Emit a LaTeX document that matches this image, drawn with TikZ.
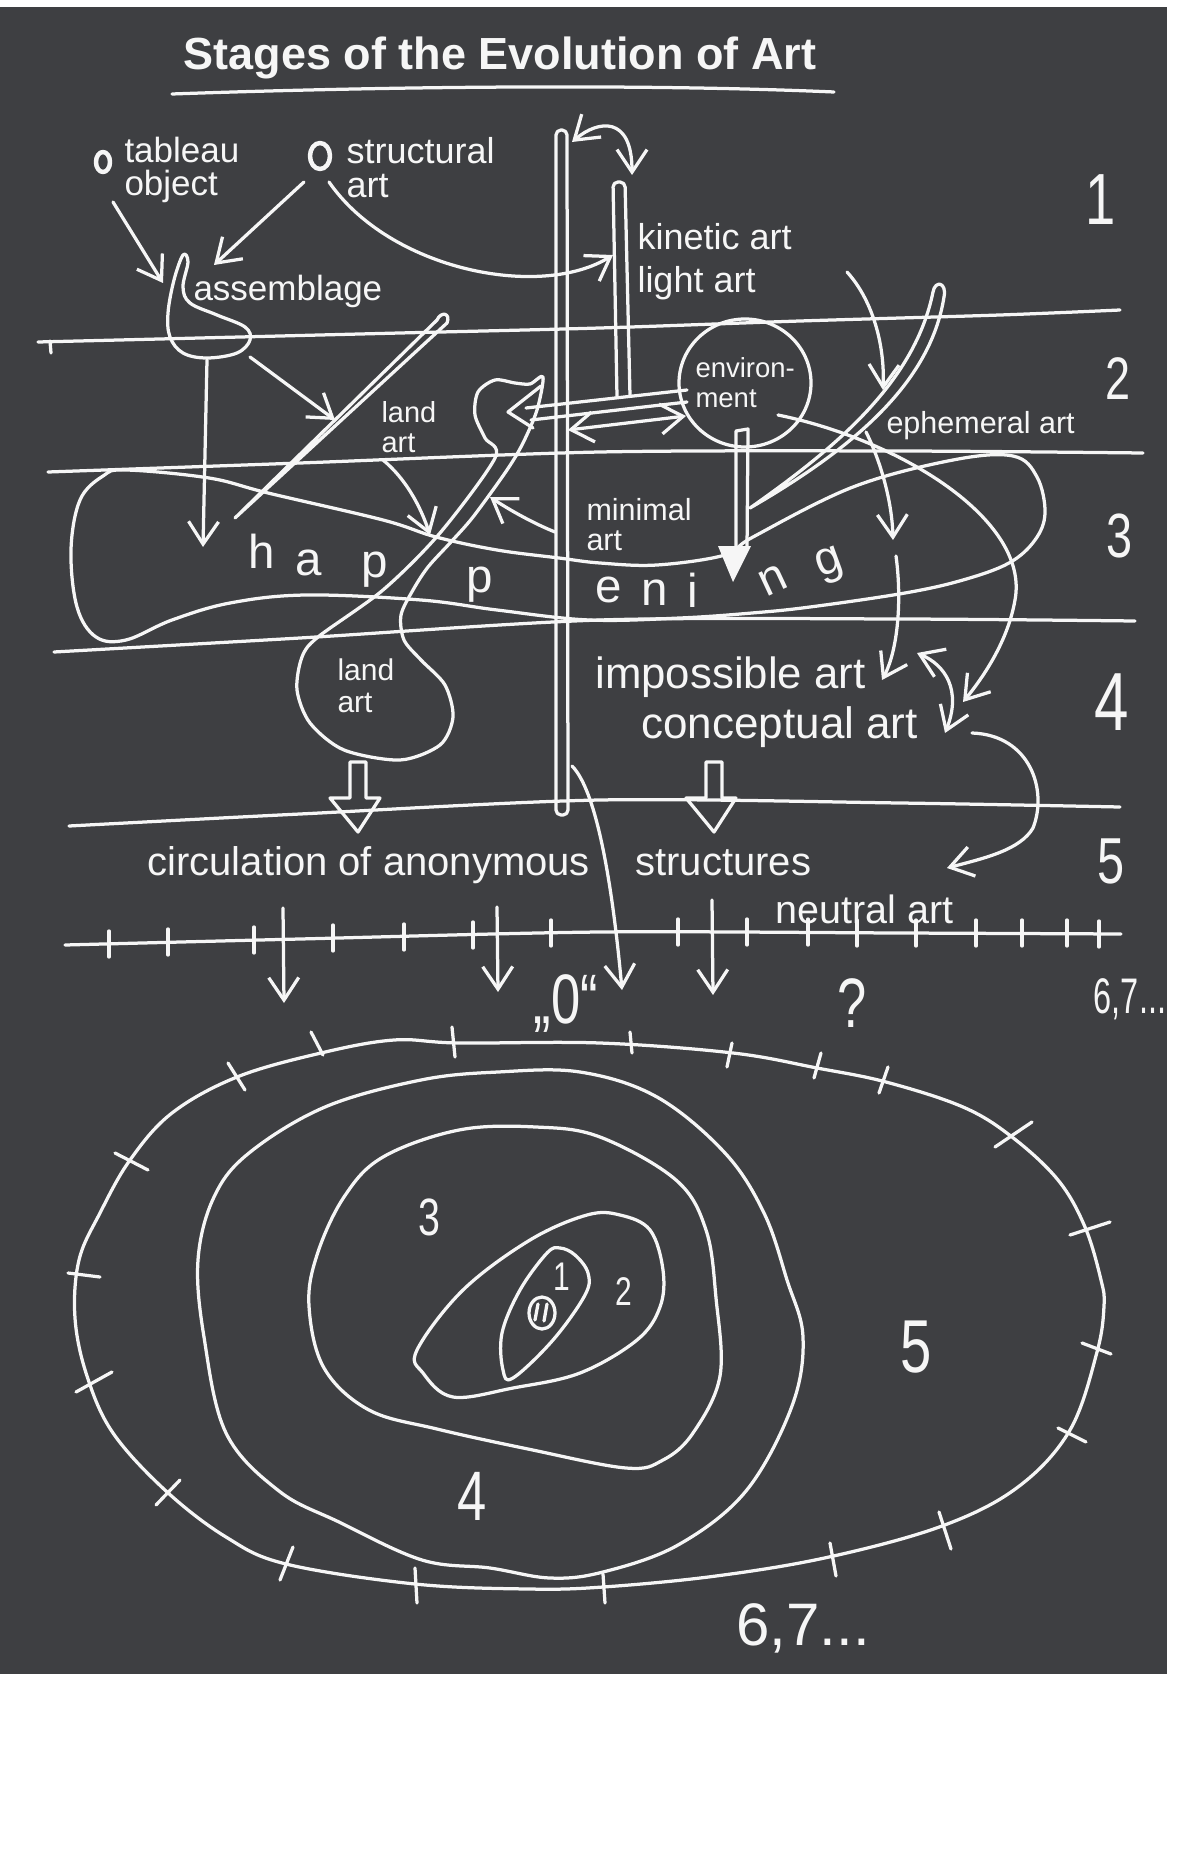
\documentclass[tikz,border=0pt]{standalone}
\usepackage{fontspec}
\setmainfont{Liberation Sans}
\usetikzlibrary{arrows.meta}
\definecolor{bg}{RGB}{62,63,66}
\definecolor{chalk}{RGB}{246,246,246}
\newcommand{\hnd}[1]{\scalebox{0.75}[1]{#1}}
\newcommand{\fs}[1]{\fontsize{#1}{#1}\selectfont}
\newcommand{\twol}[3]{\vtop{\baselineskip=#3\lineskiplimit=-\maxdimen\hbox{#1}\hbox{#2}}}
\begin{document}
\begin{tikzpicture}[x=0.4pt,y=-0.4pt,
  sk/.style={draw=chalk, line width=1.3pt, line cap=round, line join=round},
  va/.style={-{Straight Barb[length=9pt,width=12pt]}},
  vv/.style={{Straight Barb[length=9pt,width=12pt]}-{Straight Barb[length=9pt,width=12pt]}},
  lbl/.style={text=chalk, inner sep=0pt, anchor=base west},
  dig/.style={text=chalk, inner sep=0pt, anchor=base},
  hl/.style={text=chalk, inner sep=0pt, font=\fs{19}},
]
\useasboundingbox (0,0) rectangle (1182,1864);
\fill[white] (0,0) rectangle (1182,1864);
\fill[bg] (0,7) rectangle (1167,1674);

% title underline
\draw[sk] (172,94) .. controls (400,86) and (650,84) .. (834,92);

% row lines
\draw[sk] plot[smooth] coordinates {(38,342) (200,338) (400,333) (600,328) (800,321) (1000,315) (1120,310)};
\draw[sk] (50,341) -- (51,353);
\draw[sk] plot[smooth] coordinates {(48,472) (300,463) (600,452) (900,451) (1143,453)};
\draw[sk] plot[smooth] coordinates {(54,652) (300,638) (600,620) (900,619) (1135,621)};
\draw[sk] plot[smooth] coordinates {(69,826) (300,814) (600,800) (900,803) (1120,807)};
\draw[sk] plot[smooth] coordinates {(65,945) (300,939) (600,932) (900,933) (1121,934)};
\foreach \x/\y in {109/944,168/942,254/940,333/938,404/937,473/935,551/933,678/932,747/932,808/932,857/933,916/933,976/933,1022/933,1067/933,1099/934}
  \draw[sk] (\x,\y-13) -- (\x,\y+13);

% arrows below the time axis
\draw[sk,va] (283,908) -- (284,1003);
\draw[sk,va] (497,907) -- (498,992);
\draw[sk,va] (572,766) .. controls (596,790) and (612,880) .. (622,990);
\draw[sk,va] (712,900) -- (713,995);

% long bar and kinetic bar
\draw[sk, rounded corners=2pt] (556,815) -- (556,130) -- (567,130) -- (568,815) -- cycle;
\draw[sk, rounded corners=2pt] (617,397) -- (613,182) -- (625,182) -- (630,396);

% top curved double arrow
\draw[sk,vv] (572,142) .. controls (598,120) and (632,115) .. (632,175);

% structural -> kinetic
\draw[sk,va] (329,182) .. controls (390,270) and (540,300) .. (613,255);

% tableau / structural -> assemblage
\draw[sk,va] (113,202) -- (163,283);
\draw[sk,va] (304,182) -- (214,265);

% assemblage loop
\draw[sk] plot[smooth cycle, tension=0.6] coordinates {(183,255) (174,280) (168,313) (170,337) (183,353) (207,358) (237,353) (250,340) (245,327) (217,315) (190,303) (183,287) (188,262)};
\draw[sk,va] (207,360) -- (203,547);
\draw[sk,va] (250,357) -- (335,420);

% upper land art loop
\draw[sk] (235,518) -- (437,320) .. controls (441,311) and (451,313) .. (447,323) -- cycle;
\draw[sk,va] (383,460) .. controls (405,478) and (420,505) .. (430,535);

% happening loop
\draw[sk] plot[smooth cycle, tension=0.6] coordinates {(126,470) (209,478) (268,493) (383,520) (436,537) (497,550) (559,558) (600,563) (657,565) (725,555) (753,537) (853,487) (953,460) (1013,456) (1037,477) (1045,513) (1035,540) (1009,563) (963,580) (905,593) (810,607) (752,613) (680,618) (589,620) (497,610) (421,600) (306,595) (230,603) (172,620) (126,640) (96,637) (77,607) (71,550) (80,500) (103,476)};

% balloon (heart + lower land art)
\draw[sk] plot[smooth cycle, tension=0.5] coordinates {(543,377) (537,410) (523,443) (507,470) (473,517) (450,543) (428,567) (413,590) (401,615) (404,640) (421,660) (445,685) (453,717) (440,745) (400,760) (344,750) (310,723) (297,690) (302,657) (318,637) (383,590) (440,533) (495,458) (485,438) (475,415) (478,392) (495,380) (515,383) (530,384)};

% environment -> heart hollow arrow
\draw[sk] (687,390) -- (526,408);
\draw[sk] (687,402) -- (531,420);
\draw[sk] (541,386) -- (508,412) -- (533,428);
\draw[sk,vv] (568,430) -- (686,416);

% minimal art arrow
\draw[sk,va] (555,532) .. controls (530,522) and (505,507) .. (490,497);

% environment circle and its down arrow
\draw[sk] (745,383) ellipse [x radius=66, y radius=64];
\draw[sk] (736,549) -- (736,431) -- (748,429) -- (747,549);
\fill[chalk] (718,546) -- (751,546) -- (733,582) -- cycle;

% ephemeral loop
\draw[sk] (750,508) .. controls (840,445) and (915,380) .. (933,292) .. controls (935,280) and (947,282) .. (944,297) .. controls (930,385) and (850,450) .. (750,508) -- cycle;
\draw[sk,va] (847,272) .. controls (870,297) and (885,340) .. (883,390);

% environment -> conceptual
\draw[sk,va] (778,415) .. controls (900,440) and (1030,520) .. (1015,600) .. controls (1008,640) and (985,675) .. (963,702);
\draw[sk,va] (866,432) .. controls (880,460) and (892,500) .. (893,540);
\draw[sk,va] (896,556) .. controls (902,600) and (898,650) .. (882,680);
\draw[sk,vv] (917,653) .. controls (945,665) and (962,690) .. (945,733);
\draw[sk,va] (972,733) .. controls (1030,735) and (1048,790) .. (1033,828) .. controls (1020,850) and (985,858) .. (947,868);

% hollow down arrows
\foreach \cx in {358,714}
  \draw[sk] (\cx-8,762) -- (\cx-8,798) -- (\cx-28,798) -- (\cx,832) -- (\cx+22,798) -- (\cx+8,798) -- (\cx+8,762) -- cycle;

% ovals
\draw[sk] plot[smooth cycle, tension=0.6] coordinates {(100,1213) (130,1160) (172,1113) (237,1077) (321,1053) (394,1040) (459,1043) (600,1043) (733,1053) (817,1068) (886,1082) (963,1107) (1012,1137) (1058,1180) (1085,1227) (1101,1280) (1104,1306) (1097,1352) (1070,1430) (1018,1487) (942,1526) (829,1557) (716,1576) (603,1587) (528,1589) (415,1584) (286,1564) (226,1537) (166,1491) (113,1433) (87,1376) (75,1318) (79,1260)};
\draw[sk] plot[smooth cycle, tension=0.6] coordinates {(214,1197) (249,1153) (325,1107) (421,1080) (498,1072) (580,1072) (657,1097) (725,1153) (764,1213) (787,1280) (803,1337) (792,1406) (746,1491) (678,1545) (603,1572) (550,1578) (490,1568) (422,1560) (339,1522) (279,1491) (226,1433) (204,1337) (198,1260)};
\draw[sk] plot[smooth cycle, tension=0.6] coordinates {(344,1197) (383,1157) (459,1130) (536,1127) (600,1137) (676,1180) (706,1230) (716,1298) (720,1376) (693,1433) (663,1460) (626,1468) (528,1449) (437,1429) (369,1410) (324,1368) (309,1306) (317,1255)};
\draw[sk] plot[smooth cycle, tension=0.6] coordinates {(417,1350) (463,1290) (530,1240) (587,1215) (620,1215) (650,1230) (663,1270) (660,1307) (637,1340) (580,1373) (513,1388) (453,1397) (423,1373)};
\draw[sk] plot[smooth cycle, tension=0.6] coordinates {(547,1253) (560,1248) (575,1255) (588,1273) (585,1295) (553,1340) (513,1378) (503,1370) (502,1333) (520,1290)};
\draw[sk] (542,1313) ellipse [x radius=13, y radius=16];
\draw[sk] (538,1304) -- (535,1320);
\draw[sk] (547,1304) -- (544,1321);

% ticks on outer oval
\foreach \a/\b/\c/\d in {68/1273/100/1277, 76/1392/112/1372, 156/1505/180/1480, 280/1580/293/1547, 415/1568/417/1603, 603/1574/605/1603, 830/1543/836/1576, 939/1512/951/1549, 1058/1428/1086/1442, 1082/1343/1111/1354, 1070/1235/1110/1222, 995/1147/1032/1122, 888/1067/879/1093, 821/1053/814/1078, 732/1043/727/1067, 630/1032/632/1053, 452/1027/455/1057, 311/1032/323/1055, 228/1063/245/1090, 115/1153/148/1170}
  \draw[sk] (\a,\b) -- (\c,\d);

% texts
\node[text=chalk, inner sep=0pt, anchor=base, font=\fs{18}\bfseries] (title) at (500,70) {Stages of the Evolution of Art};
\draw[sk, line width=1.8pt] (103,162) ellipse [x radius=7, y radius=10];
\draw[sk, line width=1.8pt] (320,156) ellipse [x radius=10, y radius=13];
\node[lbl, font=\fs{14}] (tab) at (124,163) {\twol{tableau}{object}{12.9pt}};
\node[lbl, font=\fs{14.4}] (str) at (346,164) {\twol{structural}{art}{13.3pt}};
\node[lbl, font=\fs{14.4}] (kin) at (637,250) {\twol{kinetic art}{light art}{17.2pt}};
\node[lbl, font=\fs{14}] (asm) at (193,301) {assemblage};
\node[lbl, font=\fs{11.6}] (landa) at (381,423) {\twol{land}{art}{12pt}};
\node[lbl, font=\fs{11}] (env) at (695,378) {\twol{environ-}{ment}{12pt}};
\node[lbl, font=\fs{12.2}] (eph) at (886,433) {ephemeral art};
\node[lbl, font=\fs{12.2}] (mini) at (586,520) {\twol{minimal}{art}{12pt}};
\node[lbl, font=\fs{12}] (landb) at (337,680) {\twol{land}{art}{12.8pt}};
\node[lbl, font=\fs{17.5}] (imp) at (595,688) {impossible art};
\node[lbl, font=\fs{17.6}] (con) at (641,738) {conceptual art};
\node[lbl, font=\fs{16}] (circ) at (147,875) {circulation of anonymous};
\node[lbl, font=\fs{16}] (struc) at (635,875) {structures};
\node[lbl, font=\fs{15.8}] (neu) at (775,923) {neutral art};

% happening letters
\node[hl, anchor=base west] (h1) at (248,568) {h};
\node[hl, anchor=base west] (h2) at (295,575) {a};
\node[hl, anchor=base west] (h3) at (361,577) {p};
\node[hl, anchor=base west] (h4) at (466,592) {p};
\node[hl, anchor=base west] (h5) at (595,602) {e};
\node[hl, anchor=base west] (h6) at (641,605) {n};
\node[hl, anchor=base west] (h7) at (687,607) {i};
\node[hl, rotate=25] (h8) at (773,580) {n};
\node[hl, rotate=20] (h9) at (830,566) {g};

% row numbers
\node[dig, font=\fs{29}] (r1) at (1101,225) {\hnd{1}};
\node[dig, font=\fs{24}] (r2) at (1118,400) {\hnd{2}};
\node[dig, font=\fs{25}] (r3) at (1120,557) {\hnd{3}};
\node[dig, font=\fs{33}] (r4) at (1112,730) {\hnd{4}};
\node[dig, font=\fs{26}] (r5) at (1111,883) {\hnd{5}};

% axis labels
\node[dig, font=\fs{28}] (zero) at (566,1023) {\hnd{„0“}};
\node[dig, font=\fs{28}] (qm) at (852,1027) {\hnd{?}};
\node[dig, font=\fs{20}] (sev1) at (1130,1013) {\scalebox{0.65}[1]{6,7...}};

% oval labels
\node[dig, font=\fs{21}] (o3) at (429,1235) {\hnd{3}};
\node[dig, font=\fs{28}] (o4) at (472,1520) {\hnd{4}};
\node[dig, font=\fs{30}] (o5) at (916,1372) {\hnd{5}};
\node[dig, font=\fs{16}] (o1) at (562,1290) {\hnd{1}};
\node[dig, font=\fs{16}] (o2) at (624,1305) {\hnd{2}};
\node[dig, font=\fs{24}] (sev2) at (803,1645) {6,7...};
\end{tikzpicture}
\end{document}
